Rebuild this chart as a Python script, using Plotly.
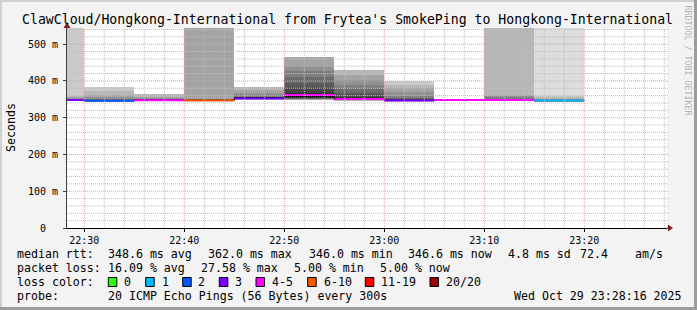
import plotly.graph_objects as go
from datetime import datetime, timedelta

# ---------------- data ----------------
DAY = "2025-10-29"
bin_start = ["22:25", "22:30", "22:35", "22:40", "22:45", "22:50",
             "22:55", "23:00", "23:05", "23:10", "23:15"]
bin_seconds = 300
median_ms = [348.0, 346.0, 347.5, 347.0, 352.5, 362.0, 351.0, 347.0, 348.0, 348.5, 346.6]
black_line_ms = [348.0, 346.0, 347.5, 347.0, 355.0, 357.0, 351.0, 347.0, 348.0, 348.5, 346.6]
loss_count = [3, 2, 4, 7, 3, 5, 4, 3, 4, 5, 1]
N = None  # unknown (lost) ping slot
pings_ms = [
    [N, 345.5, 346, 346.5, 347, 347, 347.5, 347.5, 348, 348, 348.5, 349, 350, 351, 352, 354, 356, 358, N, N],
    [N, 343.5, 344, 344.5, 345, 345, 345.5, 345.5, 346, 346, 346.5, 347, 348, 349, 351, 355, 361, 373, 383, N],
    [N, N, 345, 345.5, 346, 346, 346.5, 347, 347, 347.5, 348, 348.5, 349, 350, 351, 353, 357, 364, N, N],
    [N, N, N, 344.5, 345, 345.5, 346, 346, 346.5, 347, 347.5, 348, 348.5, 349, 350, 352, N, N, N, N],
    [N, N, 349, 350, 350.5, 351, 351.5, 352, 352, 352.5, 353, 354, 355, 357, 361, 368, 375, 383, 395, N],
    [N, N, N, 349, 350, 351, 352, 353, 354, 356, 366, 380, 395, 410, 427, 440, 465, 480, N, N],
    [N, N, 346, 347, 347.5, 348, 349, 349.5, 350, 350.5, 355, 360, 368, 377, 389, 402, 416, 429, N, N],
    [N, 344, 344.5, 345, 345.5, 346, 346, 346.5, 347, 347.5, 348.5, 349.5, 351, 354, 359, 371, 380, 390, 399, N],
    [N, N, 346, 346.5, 347, 347, 347.5, 347.5, 348, 348, 348, 348.5, 348.5, 349, 349, 349.5, 350, 350.5, N, N],
    [N, N, 345, 345.5, 346, 346.5, 347, 347.5, 348, 348.5, 349, 349.5, 350, 352, 355, 358, 361, N, N, N],
    [343, 344, 344.5, 345, 345, 345.5, 345.5, 346, 346, 346.5, 346.7, 347, 347.5, 348, 349, 350, 352, 355, 359, N],
]
x_range = ["22:28:16", "23:28:16"]
y_top_ms = 544
y_ticks = [0, 100, 200, 300, 400, 500]
y_tick_labels = ["0\u00a0\u00a0", "100 m", "200 m", "300 m", "400 m", "500 m"]
x_tick_labels = ["22:30", "22:40", "22:50", "23:00", "23:10", "23:20"]

loss_names = ["0", "1", "2", "3", "4-5", "6-10", "11-19", "20/20"]
loss_colors = ["#26ff00", "#00b8ff", "#0059ff", "#7e00ff", "#ff00ff", "#ff5500", "#ff0000", "#a10000"]

title = "ClawCloud/Hongkong-International from Frytea's SmokePing to Hongkong-International"
legend_rows = [
    [("median rtt:", 16), ("348.6 ms avg", 107.3), ("362.0 ms max", 207.3), ("346.0 ms min", 307.7),
     ("346.6 ms now", 407.3), ("4.8 ms sd", 507), ("72.4", 578.5), ("am/s", 634.3)],
    [("packet loss:", 16), ("16.09 % avg", 107.3), ("27.58 % max", 200), ("5.00 % min", 293.3),
     ("5.00 % now", 379)],
    [("loss color:", 16)],
    [("probe:", 16), ("20 ICMP Echo Pings (56 Bytes) every 300s", 107.3),
     ("Wed Oct 29 23:28:16 2025", 513)],
]
legend_row_y = [254.3, 268.3, 282.3, 296.0]
loss_box_x = [108.3, 145.7, 182.7, 219.3, 256, 307.7, 365.3, 430]
loss_label_x = [123.3, 160.7, 197.3, 234.3, 271, 322.7, 380, 445]

# ---------------- layout geometry (pixels) ----------------
W, H = 697, 310
PL, PR, PT, PB = 67, 667, 28, 228
FONT = "DejaVu Sans Mono"


def px(x):
    return (x - PL) / (PR - PL)


def py(y):
    return (PB - y) / (PB - PT)


def ts(hm):
    fmt = "%Y-%m-%d %H:%M:%S" if hm.count(":") == 2 else "%Y-%m-%d %H:%M"
    return datetime.strptime(f"{DAY} {hm}", fmt)


def loss_bucket(l):
    if l <= 3:
        return l
    if l <= 5:
        return 4
    if l <= 10:
        return 5
    if l <= 19:
        return 6
    return 7


starts = [ts(s) for s in bin_start]
step = timedelta(seconds=bin_seconds)
centers = [s + step / 2 for s in starts]

fig = go.Figure()

# ---- smoke (SmokePing style: pairs of sorted pings, inner pairs darker) ----
half = 10
for band in range(1, half + 1):
    shade = int(190 / half * (half - band)) + 50
    col = f"rgb({shade},{shade},{shade})"
    xs, bases, heights = [], [], []
    for b, pings in enumerate(pings_ms):
        lo = pings[band - 1]
        hi = pings[20 - band]
        if lo is None:
            continue
        top = y_top_ms if hi is None else min(hi, y_top_ms)
        xs.append(centers[b])
        bases.append(lo)
        heights.append(top - lo)
    if xs:
        fig.add_trace(go.Bar(x=xs, y=heights, base=bases, width=bin_seconds * 1000,
                             marker=dict(color=col, line=dict(width=0)),
                             hoverinfo="skip", showlegend=False))

# ---- black step line ----
edges = starts + [starts[-1] + step]
fig.add_trace(go.Scatter(x=edges, y=black_line_ms + [black_line_ms[-1]], mode="lines",
                         line=dict(color="#000000", width=1, shape="hv"),
                         hoverinfo="skip", showlegend=False))

# ---- loss coloured median ----
for b in range(len(starts)):
    c = loss_colors[loss_bucket(loss_count[b])]
    fig.add_trace(go.Scatter(x=[starts[b], starts[b] + step], y=[median_ms[b], median_ms[b]],
                             mode="lines", line=dict(color=c, width=2),
                             hoverinfo="skip", showlegend=False))

shapes = []
# ---- grid, drawn over the data like rrdtool ----
minor_col, major_col = "#bdbdbd", "#ef9a9a"
t = ts(x_tick_labels[0])
t_end = ts(x_range[1])
t_first = ts(x_range[0])
while t - timedelta(minutes=2) > t_first:
    t -= timedelta(minutes=2)
while t <= t_end:
    major = t.minute % 10 == 0
    shapes.append(dict(type="line", xref="x", yref="paper", x0=t, x1=t, y0=0, y1=1, layer="above",
                       line=dict(color=major_col if major else minor_col, width=1, dash="1px,1px")))
    t += timedelta(minutes=2)
for v in range(20, y_top_ms, 20):
    major = v % 100 == 0
    shapes.append(dict(type="line", xref="paper", yref="y", x0=0, x1=px(669), y0=v, y1=v, layer="above",
                       line=dict(color=major_col if major else minor_col, width=1, dash="1px,1px")))

# ---- arrows ----
arrow_col = "#7f1f1f"
shapes.append(dict(type="line", xref="paper", yref="paper", x0=1, x1=px(669), y0=0, y1=0,
                   line=dict(color="#000000", width=1)))
shapes.append(dict(type="path", xref="paper", yref="paper",
                   path=f"M {px(668)} {py(224.5)} L {px(673)} {py(228)} L {px(668)} {py(231.5)} Z",
                   fillcolor=arrow_col, line=dict(width=0)))
shapes.append(dict(type="path", xref="paper", yref="paper",
                   path=f"M {px(63.5)} {py(28)} L {px(67)} {py(22)} L {px(70.5)} {py(28)} Z",
                   fillcolor=arrow_col, line=dict(width=0)))

# ---- frame ----
def rect(x0, y0, x1, y1, color, line=None):
    d = dict(type="rect", xref="paper", yref="paper", x0=px(x0), x1=px(x1), y0=py(y1), y1=py(y0),
             fillcolor=color, layer="above", line=dict(width=0))
    if line:
        d["line"] = dict(color=line, width=1)
    return d

shapes.append(rect(0, 0, W, 2, "#d0d0d0"))
shapes.append(rect(0, 0, 2, H, "#d0d0d0"))
shapes.append(rect(0, H - 3, W, H, "#9c9c9c"))
shapes.append(rect(W - 3, 0, W, H, "#9c9c9c"))

# ---- loss colour boxes ----
for xb, c in zip(loss_box_x, loss_colors):
    shapes.append(rect(xb, 277.5, xb + 8.5, 286.5, c, line="#000000"))

annotations = []


def text(x, y, s, size=11.6, color="#000000", xanchor="left", angle=0):
    annotations.append(dict(xref="paper", yref="paper", x=px(x), y=py(y), text=s, showarrow=False,
                            xanchor=xanchor, yanchor="middle", borderpad=0, textangle=angle,
                            font=dict(family=FONT, size=size, color=color)))


text(347, 19.5, title, size=13.2, xanchor="center")
text(11, 128, "Seconds", size=11.6, xanchor="center", angle=-90)
text(687.5, 60, "RRDTOOL / TOBI OETIKER", size=8.3, color="#b4b4b4", xanchor="center", angle=90)
for row, yv in zip(legend_rows, legend_row_y):
    for s, xv in row:
        text(xv, yv, s)
for s, xv in zip(loss_names, loss_label_x):
    text(xv, legend_row_y[2], s)

fig.update_layout(
    width=W, height=H,
    margin=dict(l=PL, r=W - PR, t=PT, b=H - PB, pad=0),
    paper_bgcolor="#f3f3f3", plot_bgcolor="#ffffff",
    barmode="overlay", bargap=0, showlegend=False, hovermode=False,
    shapes=shapes, annotations=annotations,
    font=dict(family=FONT, size=10, color="#000000"),
)
fig.update_xaxes(type="date", range=[ts(x_range[0]), ts(x_range[1])],
                 tickvals=[ts(s) for s in x_tick_labels], ticktext=x_tick_labels,
                 showgrid=False, zeroline=False, showline=True, linecolor="#000000", linewidth=1,
                 ticks="outside", ticklen=3, tickcolor="#000000", tickfont=dict(family=FONT, size=10),
                 fixedrange=True)
fig.update_yaxes(range=[0, y_top_ms], tickvals=y_ticks, ticktext=y_tick_labels,
                 showgrid=False, zeroline=False, showline=True, linecolor="#404040", linewidth=1,
                 ticks="outside", ticklen=3, tickcolor="#404040", tickfont=dict(family=FONT, size=10),
                 ticklabelstandoff=3, fixedrange=True)

fig.write_html("out.html")
